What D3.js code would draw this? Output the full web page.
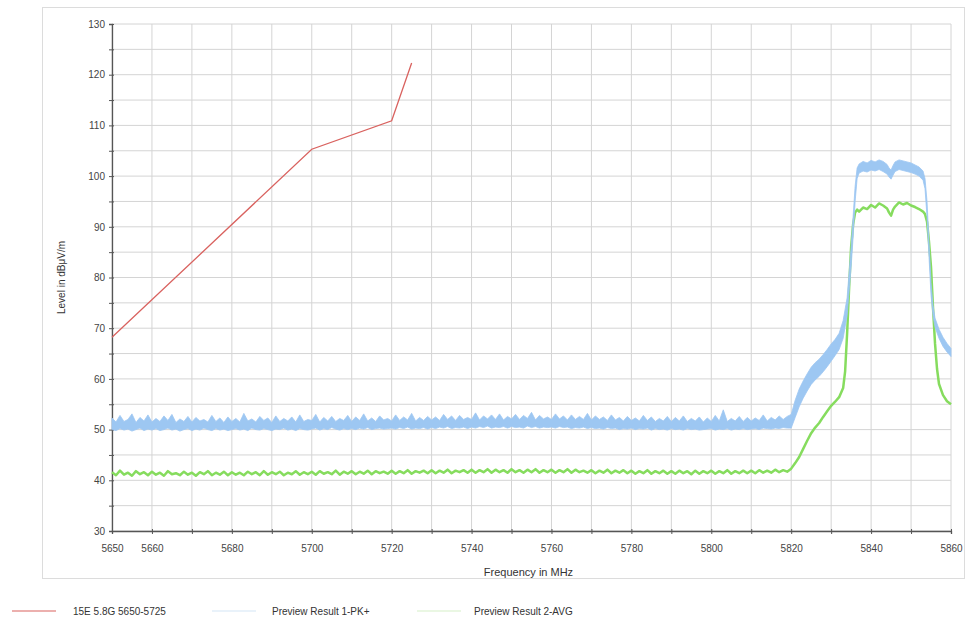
<!DOCTYPE html>
<html><head><meta charset="utf-8">
<script src="https://cdn.jsdelivr.net/npm/d3@7"></script>
<style>
body{margin:0;background:#fff;}
text{font-family:"Liberation Sans",Arial,sans-serif;}
</style></head>
<body>
<svg id="c" width="969" height="626"></svg>
<script>
// ---- data ----
const xTicks = [5650,5660,5670,5680,5690,5700,5710,5720,5730,5740,5750,5760,5770,5780,5790,5800,5810,5820,5830,5840,5850,5860];
const xLabels = [5650,5660,5680,5700,5720,5740,5760,5780,5800,5820,5840,5860];
const yTicks = [30,35,40,45,50,55,60,65,70,75,80,85,90,95,100,105,110,115,120,125,130];
const yLabels = [30,40,50,60,70,80,90,100,110,120,130];

// limit line
const limitFreq = [5650,5700,5720,5725];
const limitLevel = [68.2,105.3,110.9,122.3];

const flatStart = 5650; // flat part sampled every 1 MHz, 5650..5819
// PK+ trace: upper and lower envelope of the noisy trace
const pkFlatMax = [
52.3,51.5,52.8,51.6,52.0,53.1,51.4,52.4,51.7,52.9,
51.5,52.2,51.6,52.7,51.8,53.0,51.4,52.1,51.6,52.6,
51.5,52.4,51.7,52.0,51.5,52.8,51.6,52.3,51.4,52.5,
51.6,52.2,51.5,53.2,51.7,52.1,51.5,52.6,51.8,52.3,
51.4,52.7,51.6,52.2,51.7,52.5,51.5,52.9,51.6,52.0,
51.8,53.0,51.5,52.4,51.7,52.6,51.6,52.2,51.8,52.8,
51.6,52.5,51.8,53.1,51.7,52.3,51.6,52.7,51.9,52.2,
51.7,52.9,51.8,52.5,51.9,53.2,51.7,52.4,51.8,52.6,
51.9,52.5,51.8,53.0,52.0,52.7,51.8,52.8,52.0,52.4,
52.0,53.3,51.9,52.7,52.1,52.9,52.0,53.1,51.9,52.6,
52.1,53.0,52.0,52.8,52.2,53.4,51.9,52.8,52.1,52.5,
52.0,53.1,52.1,52.7,51.9,52.9,52.0,52.6,52.0,53.2,
51.9,52.7,52.0,52.5,51.8,52.9,51.9,52.4,51.7,52.6,
51.8,52.3,51.7,52.8,51.8,52.5,51.6,52.2,51.7,52.6,
51.6,52.4,51.7,52.7,51.6,52.2,51.7,52.5,51.5,52.3,
51.6,52.8,51.7,53.9,51.6,52.2,51.7,52.6,51.6,52.4,
51.7,52.3,51.8,52.9,51.7,52.4,51.9,52.7,52.0,52.6];
const pkFlatMin = [
50.0,49.8,50.2,49.9,50.1,49.7,50.0,50.3,49.8,50.1,
49.9,50.2,49.8,50.0,50.3,49.9,50.1,49.7,50.0,50.2,
49.8,50.1,49.9,50.3,50.0,49.8,50.2,49.9,50.1,49.8,
50.0,50.2,49.9,50.1,49.8,50.3,50.0,49.9,50.2,50.0,
49.8,50.1,50.0,50.3,49.9,50.1,49.8,50.2,50.0,49.9,
50.1,50.3,49.9,50.2,50.0,50.4,50.1,49.9,50.2,50.0,
50.2,50.0,50.3,50.1,50.4,50.0,50.2,50.3,50.1,50.2,
50.3,50.1,50.4,50.2,50.5,50.1,50.3,50.2,50.4,50.1,
50.4,50.2,50.5,50.3,50.6,50.2,50.4,50.3,50.5,50.2,
50.5,50.3,50.6,50.4,50.7,50.3,50.5,50.4,50.6,50.3,
50.6,50.4,50.5,50.3,50.7,50.4,50.6,50.3,50.5,50.4,
50.5,50.3,50.6,50.4,50.5,50.2,50.4,50.3,50.5,50.2,
50.4,50.2,50.3,50.1,50.4,50.2,50.3,50.0,50.2,50.1,
50.3,50.0,50.2,50.1,50.3,49.9,50.2,50.0,50.1,49.9,
50.2,50.0,50.1,49.9,50.2,50.0,50.1,49.9,50.0,50.1,
50.2,49.9,50.1,50.0,50.2,49.9,50.1,50.0,50.2,50.0,
50.1,50.2,50.0,50.3,50.2,50.1,50.3,50.2,50.4,50.3];
const pkEdgeFreq = [5820,5821,5822,5823,5824,5825,5826,5827,5828,5829,5830,5831,5832,5833,5834,5835,5835.5,5836,5836.5,5837,5838,5839,5840,5841,5842,5843,5844,5844.5,5845,5845.5,5846,5847,5848,5849,5850,5851,5852,5853,5853.5,5854,5854.5,5855,5855.5,5856,5857,5858,5859,5860];
const pkEdgeMax = [53.0,55.8,58.0,59.6,61.0,62.3,63.2,63.9,64.8,65.8,66.9,67.8,69.0,71.5,76.0,86.0,92.0,98.0,101.6,102.4,102.9,102.6,103.1,102.8,103.2,102.9,102.3,101.6,101.2,102.1,102.8,103.2,103.0,102.8,102.6,102.2,101.8,101.0,99.5,95.0,87.0,79.0,74.5,72.0,69.8,68.2,67.0,66.0];
const pkEdgeMin = [50.3,52.4,54.5,56.2,57.6,58.9,59.8,60.5,61.4,62.4,63.5,64.6,65.8,68.0,72.5,82.0,88.0,95.0,99.5,100.6,101.0,100.8,101.2,101.0,101.3,100.9,100.4,99.8,99.4,100.2,100.9,101.3,101.1,100.9,100.7,100.4,100.0,99.2,97.5,92.0,84.0,76.5,72.5,70.2,68.0,66.4,65.3,64.4];

// AVG trace
const avFlat = [
41.6,41.0,41.9,41.1,41.5,40.9,41.8,41.2,41.6,41.0,
41.7,41.1,41.5,40.9,41.8,41.2,41.4,41.0,41.7,41.1,
41.5,40.9,41.6,41.2,41.8,41.0,41.5,41.1,41.7,41.0,
41.6,41.1,41.5,41.0,41.7,41.2,41.6,41.0,41.8,41.1,
41.6,41.2,41.7,41.0,41.5,41.2,41.8,41.1,41.6,41.2,
41.7,41.1,41.8,41.3,41.6,41.2,41.9,41.1,41.7,41.3,
41.8,41.2,41.7,41.3,41.9,41.2,41.8,41.4,41.7,41.3,
41.9,41.3,41.8,41.4,42.0,41.3,41.8,41.5,41.9,41.4,
42.0,41.4,41.9,41.5,42.1,41.4,41.9,41.6,42.0,41.5,
42.1,41.5,42.0,41.6,42.2,41.5,42.1,41.6,42.0,41.5,
42.2,41.6,42.0,41.5,42.1,41.6,42.2,41.5,42.0,41.6,
42.1,41.5,42.0,41.6,42.2,41.5,42.1,41.6,41.9,41.5,
42.0,41.4,41.9,41.5,42.1,41.4,41.9,41.5,42.0,41.4,
41.9,41.3,41.8,41.4,42.0,41.3,41.8,41.4,41.9,41.3,
41.8,41.3,41.9,41.4,41.8,41.2,41.9,41.3,41.8,41.4,
41.9,41.3,41.8,41.4,42.0,41.3,41.8,41.4,41.9,41.4,
41.9,41.4,42.0,41.5,41.9,41.5,42.1,41.6,42.0,41.7];
const avEdgeFreq = [5820,5821,5822,5823,5824,5825,5826,5827,5828,5829,5830,5831,5832,5833,5833.5,5834,5834.5,5835,5835.5,5836,5836.5,5837,5838,5839,5840,5841,5842,5843,5844,5844.5,5845,5845.5,5846,5847,5848,5849,5850,5851,5852,5853,5853.5,5854,5854.5,5855,5855.5,5856,5856.5,5857,5858,5859,5860];
const avEdgeLevel = [42.3,43.4,44.6,46.2,47.8,49.3,50.4,51.3,52.5,53.6,54.7,55.5,56.4,58.2,61.5,69.0,78.0,86.0,90.5,92.8,93.4,93.0,93.8,93.5,94.3,93.8,94.6,94.2,93.6,92.8,92.2,93.4,94.0,94.8,94.4,94.7,94.2,93.9,93.5,93.0,92.5,91.0,87.0,82.0,74.0,67.0,62.0,59.0,56.8,55.6,55.0];

const seriesNames = ["15E 5.8G 5650-5725","Preview Result 1-PK+","Preview Result 2-AVG"];
const seriesColors = ["#d9625f","#9dc7f2","#86dc5e"];
const legendColors = ["#d9625f","#d4e6f6","#d6f0c8"];

// ---- build ----
const svg = d3.select("#c");
const L=112,R=951,T=24,B=531;
const x = d3.scaleLinear().domain([5650,5860]).range([L,R]);
const y = d3.scaleLinear().domain([30,130]).range([B,T]);

svg.append("rect").attr("x",42.5).attr("y",7.5).attr("width",922).attr("height",571)
  .attr("fill","#fff").attr("stroke","#dcdcdc");

// grid
svg.append("g").selectAll("line").data(xTicks).join("line")
  .attr("x1",d=>x(d)).attr("x2",d=>x(d)).attr("y1",T).attr("y2",B)
  .attr("stroke","#d4d4d4").attr("stroke-width",1);
svg.append("g").selectAll("line").data(yTicks).join("line")
  .attr("x1",L).attr("x2",R).attr("y1",d=>y(d)).attr("y2",d=>y(d))
  .attr("stroke","#d4d4d4").attr("stroke-width",1);

// axes
const xa = svg.append("g").attr("transform",`translate(0,${B})`)
  .call(d3.axisBottom(x).tickValues(xTicks).tickSize(3).tickFormat(d=>xLabels.includes(d)?d:""));
const ya = svg.append("g").attr("transform",`translate(${L},0)`)
  .call(d3.axisLeft(y).tickValues(yTicks).tickSize(3).tickFormat(d=>yLabels.includes(d)?d:""));
[xa,ya].forEach(a=>{
  a.select(".domain").attr("stroke","#555").attr("stroke-width",1.3);
  a.selectAll(".tick line").attr("stroke","#555");
  a.selectAll("text").attr("fill","#444").style("font-size","10px");
});
xa.selectAll(".tick line").attr("y1",-2);
xa.selectAll("text").attr("dy","1.5em");
ya.selectAll(".tick line").attr("x1",2);
ya.selectAll("text").attr("dx","-0.1em");

// data
const line = d3.line().x(d=>x(d[0])).y(d=>y(d[1]));
const band = d3.area().x(d=>x(d[0])).y0(d=>y(d[1])).y1(d=>y(d[2]));
const pk = pkFlatMax.map((v,i)=>[flatStart+i,pkFlatMin[i],v])
  .concat(pkEdgeFreq.map((f,i)=>[f,pkEdgeMin[i],pkEdgeMax[i]]));
const av = avFlat.map((v,i)=>[flatStart+i,v]).concat(avEdgeFreq.map((f,i)=>[f,avEdgeLevel[i]]));
const lim = limitFreq.map((f,i)=>[f,limitLevel[i]]);

svg.append("path").datum(av).attr("d",line).attr("fill","none")
  .attr("stroke",seriesColors[2]).attr("stroke-width",2.5).attr("stroke-linejoin","round");
svg.append("path").datum(pk).attr("d",band).attr("fill",seriesColors[1])
  .attr("stroke",seriesColors[1]).attr("stroke-width",0.8);
svg.append("path").datum(lim).attr("d",line).attr("fill","none")
  .attr("stroke",seriesColors[0]).attr("stroke-width",1.3);

// axis titles
svg.append("text").attr("x",(L+R)/2-3).attr("y",576).attr("text-anchor","middle")
  .attr("fill","#333").style("font-size","11px").text("Frequency in MHz");
svg.append("text").attr("transform",`translate(65,${(T+B)/2}) rotate(-90)`).attr("text-anchor","middle")
  .attr("fill","#333").style("font-size","10px").text("Level in dBμV/m");

// legend
const legX=[12,212,417];
const lg = svg.append("g").selectAll("g").data(seriesNames).join("g")
  .attr("transform",(d,i)=>`translate(${legX[i]},611)`);
lg.append("line").attr("x1",0).attr("x2",44).attr("stroke",(d,i)=>legendColors[i]).attr("stroke-width",1.2);
lg.append("text").attr("x",(d,i)=>i===0?61:i===1?60:57).attr("y",4).attr("fill","#333")
  .style("font-size","10px").text(d=>d);
</script>
</body></html>
